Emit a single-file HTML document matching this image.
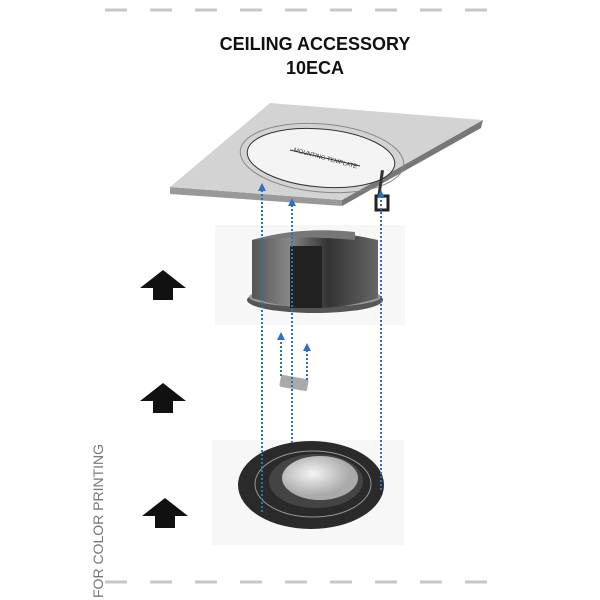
<!DOCTYPE html><html><head><style>body{margin:0;background:#fff}svg{display:block}</style></head><body>
<svg width="600" height="600" viewBox="0 0 600 600" xmlns="http://www.w3.org/2000/svg" font-family="Liberation Sans, sans-serif">
<defs>
<linearGradient id="can" x1="0" x2="1"><stop offset="0" stop-color="#555"/><stop offset=".3" stop-color="#888"/><stop offset=".6" stop-color="#333"/><stop offset="1" stop-color="#666"/></linearGradient>
<radialGradient id="lens" cx=".4" cy=".4"><stop offset="0" stop-color="#f4f4f4"/><stop offset="1" stop-color="#aaa"/></radialGradient>
</defs>
<g stroke="#c8c8c8" stroke-width="3">
<line x1="105" y1="10" x2="495" y2="10" stroke-dasharray="22 23"/>
<line x1="105" y1="582" x2="495" y2="582" stroke-dasharray="22 23"/>
</g>
<text x="315" y="50" font-size="18" font-weight="bold" text-anchor="middle" fill="#111">CEILING ACCESSORY</text>
<text x="315" y="74" font-size="18" font-weight="bold" text-anchor="middle" fill="#111">10ECA</text>
<rect x="215" y="225" width="190" height="100" fill="#f7f7f7"/>
<rect x="212" y="440" width="192" height="105" fill="#f7f7f7"/>
<!-- ceiling tile -->
<polygon points="170,187 342,200 342,206 170,194" fill="#999"/>
<polygon points="342,200 483,120 481,128 342,206" fill="#777"/>
<polygon points="270,103 483,120 342,200 170,187" fill="#d3d3d3"/>
<ellipse cx="322" cy="158" rx="82" ry="34" transform="rotate(5 322 158)" fill="none" stroke="#888"/>
<ellipse cx="321" cy="158" rx="74" ry="29" transform="rotate(5 321 158)" fill="#f4f4f4" stroke="#333"/>
<line x1="290" y1="150" x2="360" y2="166" stroke="#333"/>
<text x="325" y="160" font-size="6" text-anchor="middle" fill="#333" transform="rotate(15 325 160)">MOUNTING TEMPLATE</text>
<rect x="381" y="170" width="3" height="25" fill="#333" transform="rotate(8 381 170)"/>
<rect x="376" y="196" width="12" height="14" fill="none" stroke="#222" stroke-width="3"/>
<!-- canister -->
<ellipse cx="315" cy="300" rx="68" ry="13" fill="#555"/>
<ellipse cx="315" cy="297" rx="66" ry="10" fill="#999"/>
<path d="M252,240 L252,298 Q315,318 378,298 L378,240 Q315,225 252,240Z" fill="url(#can)"/>
<rect x="290" y="246" width="32" height="62" fill="#222"/>
<path d="M252,240 Q300,226 355,232 L355,240 Q300,235 252,240Z" fill="#777"/>
<!-- arrows -->
<g fill="#111">
<polygon points="163,270 186,288 173,288 173,300 153,300 153,288 140,288"/>
<polygon points="163,383 186,401 173,401 173,413 153,413 153,401 140,401"/>
<polygon points="165,498 188,516 175,516 175,528 155,528 155,516 142,516"/>
</g>
<!-- switch -->
<rect x="280" y="377" width="28" height="12" rx="2" fill="#aaa" transform="rotate(10 294 383)"/>
<!-- base disc -->
<ellipse cx="311" cy="485" rx="73" ry="44" fill="#2a2a2a"/>
<ellipse cx="313" cy="484" rx="58" ry="33" fill="none" stroke="#999"/>
<ellipse cx="316" cy="481" rx="47" ry="27" fill="#444"/>
<ellipse cx="320" cy="478" rx="38" ry="22" fill="url(#lens)"/>
<!-- dotted blue -->
<g stroke="#2d6fc0" stroke-width="2" stroke-dasharray="2 2" fill="none">
<line x1="262" y1="190" x2="262" y2="512"/>
<line x1="292" y1="205" x2="292" y2="445"/>
<line x1="381" y1="196" x2="381" y2="492"/>
<line x1="281" y1="338" x2="281" y2="378"/>
<line x1="307" y1="350" x2="307" y2="380"/>
</g>
<g fill="#2d6fc0">
<polygon points="262,183 258,191 266,191"/><polygon points="292,198 288,206 296,206"/><polygon points="381,190 377,198 385,198"/>
<polygon points="281,332 277,340 285,340"/><polygon points="307,343 303,351 311,351"/>
</g>
<text x="0" y="0" font-size="14" fill="#777" transform="translate(103,612) rotate(-90)">D FOR COLOR PRINTING</text>
</svg>
</body></html>
